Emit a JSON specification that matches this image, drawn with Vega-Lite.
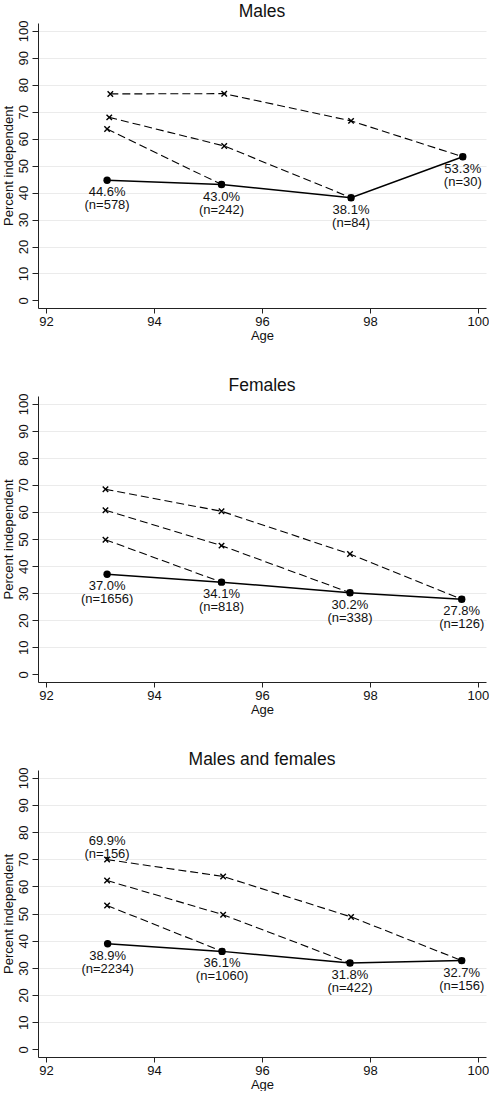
{
  "$schema": "https://vega.github.io/schema/vega-lite/v6.json",
  "background": "white",
  "padding": {"left": 1, "top": 3, "right": 0, "bottom": 0},
  "spacing": 88,
  "bounds": "flush",
  "datasets": {
    "pts": [
      {"panel": "Males", "series": "cross", "age": 93.13, "pct": 44.6, "label": ["44.6%", "(n=578)"], "pos": "below"},
      {"panel": "Males", "series": "cross", "age": 95.25, "pct": 43.0, "label": ["43.0%", "(n=242)"], "pos": "below"},
      {"panel": "Males", "series": "cross", "age": 97.65, "pct": 38.1, "label": ["38.1%", "(n=84)"], "pos": "below"},
      {"panel": "Males", "series": "cross", "age": 99.72, "pct": 53.3, "label": ["53.3%", "(n=30)"], "pos": "below"},
      {"panel": "Males", "series": "c1", "age": 93.19, "pct": 76.6},
      {"panel": "Males", "series": "c1", "age": 95.3, "pct": 76.7},
      {"panel": "Males", "series": "c1", "age": 97.65, "pct": 66.6},
      {"panel": "Males", "series": "c1", "age": 99.72, "pct": 53.3},
      {"panel": "Males", "series": "c2", "age": 93.17, "pct": 67.9},
      {"panel": "Males", "series": "c2", "age": 95.3, "pct": 57.3},
      {"panel": "Males", "series": "c2", "age": 97.65, "pct": 38.1},
      {"panel": "Males", "series": "c3", "age": 93.13, "pct": 63.6},
      {"panel": "Males", "series": "c3", "age": 95.25, "pct": 43.0},

      {"panel": "Females", "series": "cross", "age": 93.13, "pct": 37.0, "label": ["37.0%", "(n=1656)"], "pos": "below"},
      {"panel": "Females", "series": "cross", "age": 95.25, "pct": 34.1, "label": ["34.1%", "(n=818)"], "pos": "below"},
      {"panel": "Females", "series": "cross", "age": 97.63, "pct": 30.2, "label": ["30.2%", "(n=338)"], "pos": "below"},
      {"panel": "Females", "series": "cross", "age": 99.7, "pct": 27.8, "label": ["27.8%", "(n=126)"], "pos": "below"},
      {"panel": "Females", "series": "c1", "age": 93.1, "pct": 68.4},
      {"panel": "Females", "series": "c1", "age": 95.25, "pct": 60.3},
      {"panel": "Females", "series": "c1", "age": 97.63, "pct": 44.5},
      {"panel": "Females", "series": "c1", "age": 99.7, "pct": 27.8},
      {"panel": "Females", "series": "c2", "age": 93.1, "pct": 60.7},
      {"panel": "Females", "series": "c2", "age": 95.25, "pct": 47.6},
      {"panel": "Females", "series": "c2", "age": 97.63, "pct": 30.2},
      {"panel": "Females", "series": "c3", "age": 93.1, "pct": 49.8},
      {"panel": "Females", "series": "c3", "age": 95.25, "pct": 34.1},

      {"panel": "Males and females", "series": "cross", "age": 93.14, "pct": 38.9, "label": ["38.9%", "(n=2234)"], "pos": "below"},
      {"panel": "Males and females", "series": "cross", "age": 95.26, "pct": 36.1, "label": ["36.1%", "(n=1060)"], "pos": "below"},
      {"panel": "Males and females", "series": "cross", "age": 97.63, "pct": 31.8, "label": ["31.8%", "(n=422)"], "pos": "below"},
      {"panel": "Males and females", "series": "cross", "age": 99.7, "pct": 32.7, "label": ["32.7%", "(n=156)"], "pos": "below"},
      {"panel": "Males and females", "series": "c1", "age": 93.13, "pct": 69.9, "label": ["69.9%", "(n=156)"], "pos": "above"},
      {"panel": "Males and females", "series": "c1", "age": 95.28, "pct": 63.7},
      {"panel": "Males and females", "series": "c1", "age": 97.65, "pct": 48.8},
      {"panel": "Males and females", "series": "c1", "age": 99.7, "pct": 32.7},
      {"panel": "Males and females", "series": "c2", "age": 93.13, "pct": 62.2},
      {"panel": "Males and females", "series": "c2", "age": 95.28, "pct": 49.6},
      {"panel": "Males and females", "series": "c2", "age": 97.63, "pct": 31.8},
      {"panel": "Males and females", "series": "c3", "age": 93.13, "pct": 53.0},
      {"panel": "Males and females", "series": "c3", "age": 95.26, "pct": 36.1}
    ]
  },
  "vconcat": [
    {
      "title": "Males",
      "width": 448, "height": 285,
      "data": {"name": "pts"},
      "transform": [{"filter": "datum.panel === 'Males'"}],
      "encoding": {
        "x": {"field": "age", "type": "quantitative", "title": "Age", "scale": {"domain": [91.85, 100.15], "nice": false, "zero": false}, "axis": {"values": [92, 94, 96, 98, 100], "tickSize": 5, "labelPadding": 2, "titlePadding": 1, "grid": false}},
        "y": {"field": "pct", "type": "quantitative", "title": "Percent independent", "scale": {"domain": [-2.8, 102.9], "nice": false, "zero": false}, "axis": {"values": [0, 10, 20, 30, 40, 50, 60, 70, 80, 90, 100], "tickSize": 6, "labelAngle": 270, "labelAlign": "center", "labelBaseline": "bottom", "labelPadding": 2, "titlePadding": 2, "grid": true, "gridColor": {"condition": {"test": "datum.value === 0", "value": "transparent"}, "value": "#ebebeb"}}}
      },
      "layer": [
        {"transform": [{"filter": "datum.series !== 'cross'"}], "mark": {"type": "line", "color": "black", "strokeWidth": 1.1, "strokeDash": [8, 4]}, "encoding": {"detail": {"field": "series"}}},
        {"transform": [{"filter": "datum.series !== 'cross'"}], "mark": {"type": "point", "shape": "M-1,-1L1,1M-1,1L1,-1", "filled": false, "stroke": "black", "strokeWidth": 1.4, "size": 30, "opacity": 1}},
        {"transform": [{"filter": "datum.series === 'cross'"}], "mark": {"type": "line", "color": "black", "strokeWidth": 1.5}},
        {"transform": [{"filter": "datum.series === 'cross'"}], "mark": {"type": "circle", "color": "black", "size": 55, "opacity": 1}},
        {"transform": [{"filter": "datum.pos === 'below'"}], "mark": {"type": "text", "baseline": "top", "align": "center", "dy": 6, "lineHeight": 13, "fontSize": 13, "font": "Liberation Sans", "color": "#111"}, "encoding": {"text": {"field": "label"}}},
        {"transform": [{"filter": "datum.pos === 'above'"}], "mark": {"type": "text", "baseline": "bottom", "align": "center", "dy": -12, "lineHeight": 13, "fontSize": 13, "font": "Liberation Sans", "color": "#111"}, "encoding": {"text": {"field": "label"}}}
      ]
    },
    {
      "title": "Females",
      "width": 448, "height": 286,
      "data": {"name": "pts"},
      "transform": [{"filter": "datum.panel === 'Females'"}],
      "encoding": {
        "x": {"field": "age", "type": "quantitative", "title": "Age", "scale": {"domain": [91.85, 100.15], "nice": false, "zero": false}, "axis": {"values": [92, 94, 96, 98, 100], "tickSize": 5, "labelPadding": 2, "titlePadding": 1, "grid": false}},
        "y": {"field": "pct", "type": "quantitative", "title": "Percent independent", "scale": {"domain": [-2.8, 102.9], "nice": false, "zero": false}, "axis": {"values": [0, 10, 20, 30, 40, 50, 60, 70, 80, 90, 100], "tickSize": 6, "labelAngle": 270, "labelAlign": "center", "labelBaseline": "bottom", "labelPadding": 2, "titlePadding": 2, "grid": true, "gridColor": {"condition": {"test": "datum.value === 0", "value": "transparent"}, "value": "#ebebeb"}}}
      },
      "layer": [
        {"transform": [{"filter": "datum.series !== 'cross'"}], "mark": {"type": "line", "color": "black", "strokeWidth": 1.1, "strokeDash": [8, 4]}, "encoding": {"detail": {"field": "series"}}},
        {"transform": [{"filter": "datum.series !== 'cross'"}], "mark": {"type": "point", "shape": "M-1,-1L1,1M-1,1L1,-1", "filled": false, "stroke": "black", "strokeWidth": 1.4, "size": 30, "opacity": 1}},
        {"transform": [{"filter": "datum.series === 'cross'"}], "mark": {"type": "line", "color": "black", "strokeWidth": 1.5}},
        {"transform": [{"filter": "datum.series === 'cross'"}], "mark": {"type": "circle", "color": "black", "size": 55, "opacity": 1}},
        {"transform": [{"filter": "datum.pos === 'below'"}], "mark": {"type": "text", "baseline": "top", "align": "center", "dy": 6, "lineHeight": 13, "fontSize": 13, "font": "Liberation Sans", "color": "#111"}, "encoding": {"text": {"field": "label"}}}
      ]
    },
    {
      "title": "Males and females",
      "width": 448, "height": 287,
      "data": {"name": "pts"},
      "transform": [{"filter": "datum.panel === 'Males and females'"}],
      "encoding": {
        "x": {"field": "age", "type": "quantitative", "title": "Age", "scale": {"domain": [91.85, 100.15], "nice": false, "zero": false}, "axis": {"values": [92, 94, 96, 98, 100], "tickSize": 5, "labelPadding": 2, "titlePadding": 1, "grid": false}},
        "y": {"field": "pct", "type": "quantitative", "title": "Percent independent", "scale": {"domain": [-2.8, 102.9], "nice": false, "zero": false}, "axis": {"values": [0, 10, 20, 30, 40, 50, 60, 70, 80, 90, 100], "tickSize": 6, "labelAngle": 270, "labelAlign": "center", "labelBaseline": "bottom", "labelPadding": 2, "titlePadding": 2, "grid": true, "gridColor": {"condition": {"test": "datum.value === 0", "value": "transparent"}, "value": "#ebebeb"}}}
      },
      "layer": [
        {"transform": [{"filter": "datum.series !== 'cross'"}], "mark": {"type": "line", "color": "black", "strokeWidth": 1.1, "strokeDash": [8, 4]}, "encoding": {"detail": {"field": "series"}}},
        {"transform": [{"filter": "datum.series !== 'cross'"}], "mark": {"type": "point", "shape": "M-1,-1L1,1M-1,1L1,-1", "filled": false, "stroke": "black", "strokeWidth": 1.4, "size": 30, "opacity": 1}},
        {"transform": [{"filter": "datum.series === 'cross'"}], "mark": {"type": "line", "color": "black", "strokeWidth": 1.5}},
        {"transform": [{"filter": "datum.series === 'cross'"}], "mark": {"type": "circle", "color": "black", "size": 55, "opacity": 1}},
        {"transform": [{"filter": "datum.pos === 'below'"}], "mark": {"type": "text", "baseline": "top", "align": "center", "dy": 6, "lineHeight": 13, "fontSize": 13, "font": "Liberation Sans", "color": "#111"}, "encoding": {"text": {"field": "label"}}},
        {"transform": [{"filter": "datum.pos === 'above'"}], "mark": {"type": "text", "baseline": "bottom", "align": "center", "dy": -12, "lineHeight": 13, "fontSize": 13, "font": "Liberation Sans", "color": "#111"}, "encoding": {"text": {"field": "label"}}}
      ]
    }
  ],
  "config": {
    "view": {"stroke": null},
    "font": "Liberation Sans",
    "title": {"font": "Liberation Sans", "fontSize": 17.5, "fontWeight": "normal", "color": "#111", "anchor": "middle", "offset": -1, "frame": "group", "baseline": "alphabetic"},
    "axis": {"domainColor": "#222", "tickColor": "#222", "labelColor": "#111", "titleColor": "#111", "labelFont": "Liberation Sans", "titleFont": "Liberation Sans", "labelFontSize": 13, "titleFontSize": 13, "titleFontWeight": "normal", "domainWidth": 1, "tickWidth": 1}
  }
}
